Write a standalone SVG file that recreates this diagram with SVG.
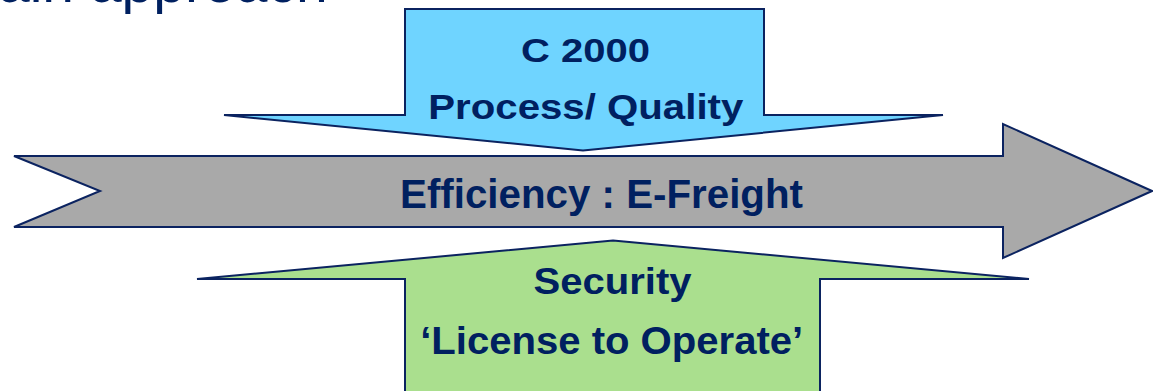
<svg xmlns="http://www.w3.org/2000/svg" width="1153" height="391" viewBox="0 0 1153 391">
<style>
.shape{stroke:#0b2360;stroke-width:2;stroke-linejoin:miter}
.lbl{font-family:"Liberation Sans",Arial,sans-serif;font-weight:bold;fill:#002060;text-anchor:middle}
.title{font-family:"Liberation Sans",Arial,sans-serif;fill:#002060;font-size:57px}
</style>
<rect width="1153" height="391" fill="#ffffff"/>
<text class="title" x="-2" y="1.5">ain approach</text>
<g id="efficiency">
<polygon class="shape" fill="#a9a9a9" points="14,156 1003,156 1003,124 1152,191 1003,258 1003,227 14,227 100,191"/>
<text class="lbl" x="601.5" y="208" font-size="41" textLength="403" lengthAdjust="spacingAndGlyphs">Efficiency : E-Freight</text>
</g>
<g id="process">
<polygon class="shape" fill="#6fd4ff" points="405,9 764,9 764,115 943,115 583,150.5 224,115 405,115"/>
<text class="lbl" x="585.5" y="62.3" font-size="34" textLength="129" lengthAdjust="spacingAndGlyphs">C 2000</text>
<text class="lbl" x="585.8" y="119.3" font-size="35" textLength="315" lengthAdjust="spacingAndGlyphs">Process/ Quality</text>
</g>
<g id="security">
<polygon class="shape" fill="#aadf8e" points="613,240.5 1029,279 820,279 820,396 405,396 405,279 197,279"/>
<text class="lbl" x="612.5" y="293.5" font-size="37" textLength="158" lengthAdjust="spacingAndGlyphs">Security</text>
<text class="lbl" x="611.7" y="354" font-size="38" textLength="383" lengthAdjust="spacingAndGlyphs">‘License to Operate’</text>
</g>
<g id="connectors"></g>
</svg>
